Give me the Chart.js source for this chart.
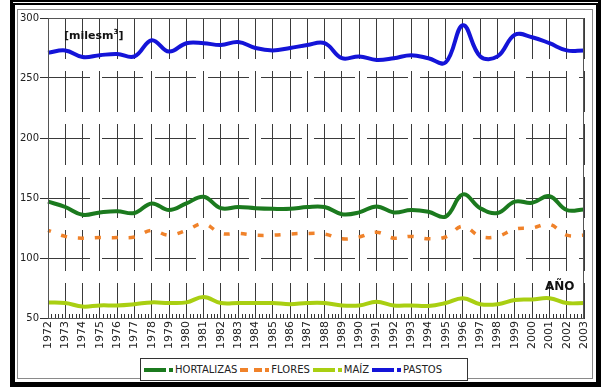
<!DOCTYPE html>
<html>
<head>
<meta charset="utf-8">
<script src="https://cdn.jsdelivr.net/npm/chart.js@4/dist/chart.umd.min.js"></script>
<style>
  html, body { margin: 0; padding: 0; background: #fff; }
  #wrap { position: relative; width: 601px; height: 387px; overflow: hidden; font-family: "DejaVu Sans", sans-serif; }
  #c { position: absolute; left: 0; top: 0; }
  .frame-outer { position: absolute; left: 10px; top: 0; width: 581px; height: 377px; border: 5px solid #000; border-top-style: double; pointer-events: none; }
  .frame-inner { position: absolute; left: 17px; top: 9px; width: 574px; height: 368px; border: 1px solid #8a8a8a; pointer-events: none; }
  .unit { position: absolute; left: 64px; top: 28px; font-size: 11px; font-weight: bold; color: #111; }
  .unit sup { font-size: 7px; }
  .axis-name { position: absolute; left: 545px; top: 279px; font-size: 12px; font-weight: bold; color: #111; }
  #legend { position: absolute; left: 140px; top: 358px; width: 326px; height: 21px; border: 1px solid #333; background: #fff;
            display: flex; align-items: center; font-size: 10px; color: #222; white-space: nowrap; }
  .item { display: flex; align-items: center; margin-left: 3px; }
  .swatch { width: 22px; height: 0; margin-right: 3px; }
  .mark { width: 4px; height: 4px; margin-right: 2px; }
</style>
</head>
<body>
<div id="wrap">
  <canvas id="c" width="601" height="387"></canvas>
  <div class="frame-outer"></div>
  <div class="frame-inner"></div>
  <div class="unit">[milesm<sup>3</sup>]</div>
  <div class="axis-name">AÑO</div>
  <div id="legend"></div>
</div>
<script>
// Years on the horizontal axis
const years = ['1972','1973','1974','1975','1976','1977','1978','1979','1980','1981',
  '1982','1983','1984','1985','1986','1987','1988','1989','1990','1991','1992','1993',
  '1994','1995','1996','1997','1998','1999','2000','2001','2002','2003'];

// Series values (miles de m³)
const hortalizas = [147,142.5,136,138,139,137.5,145.5,140,145.5,151,141.5,142.5,141.5,141,141,142.5,
  142.5,136.5,138,143,138,140,138.5,134.5,153,141.5,137.5,147,146,151.5,140,140.5];
const flores = [123,118,116.5,117,117,117.5,123,119,123,128.5,120.5,120.5,119,119,120,120.5,
  120,116,117.5,121.5,116.5,118,116,117.5,126.5,118,118,124,125,128,119,119];
const maiz = [63,62.5,59.5,60.5,60.5,61.5,63,62.5,63,67.5,62.5,62.5,62.5,62.5,61.5,62.5,
  62.5,60.5,60.5,63.5,60.5,60.5,60,62.5,66.5,61.5,61.5,65,65.5,66.5,62.5,62.5];
const pastos = [271,273,267.5,269,270,268,281.5,272,279,279,277.5,280,275,273,275,277.5,
  279,266.5,268,265,266.5,269,266.5,263,294,268,268,286,284,279,273,273];

// Y axis tick values
const yTicks = [50,100,150,200,250,300];

const series = [
  { label: 'HORTALIZAS', data: hortalizas, color: '#1b7a1e', dash: [],     width: 4 },
  { label: 'FLORES',     data: flores,     color: '#f0822a', dash: [6,11], width: 3.5 },
  { label: 'MAÍZ',       data: maiz,       color: '#a9cf12', dash: [],     width: 4 },
  { label: 'PASTOS',     data: pastos,     color: '#1414d8', dash: [],     width: 4 }
];

// Plot frame and small minor ticks along the bottom axis
const framePlugin = {
  id: 'frame',
  afterDatasetsDraw(chart) {
    const { ctx, chartArea: a, scales: { x } } = chart;
    ctx.save();
    ctx.strokeStyle = '#555';
    ctx.lineWidth = 1;
    ctx.strokeRect(a.left + 0.5, a.top + 0.5, a.right - a.left - 1, a.bottom - a.top);
    ctx.strokeStyle = '#333';
    ctx.beginPath();
    for (let i = 0; i < years.length - 1; i++) {
      const p0 = x.getPixelForValue(i), p1 = x.getPixelForValue(i + 1);
      for (let k = 1; k < 5; k++) {
        const px = Math.round(p0 + (p1 - p0) * k / 5) + 0.5;
        ctx.moveTo(px, a.bottom - 4);
        ctx.lineTo(px, a.bottom);
      }
    }
    ctx.stroke();
    ctx.restore();
  }
};

new Chart(document.getElementById('c'), {
  type: 'line',
  data: {
    labels: years,
    datasets: series.map(s => ({
      label: s.label,
      data: s.data,
      borderColor: s.color,
      backgroundColor: s.color,
      borderWidth: s.width,
      borderDash: s.dash,
      borderDashOffset: s.dash.length ? 3 : 0,
      pointRadius: 0,
      tension: 0.4,
      fill: false
    }))
  },
  options: {
    responsive: false,
    devicePixelRatio: 1,
    animation: false,
    layout: { padding: { left: 0, right: 17, top: 18, bottom: 29 } },
    plugins: { legend: { display: false }, tooltip: { enabled: false } },
    scales: {
      x: {
        type: 'category',
        offset: false,
        afterFit(s) { s.height = 40; },
        grid: { display: true, color: '#3a3a3a', lineWidth: 1, drawTicks: false },
        border: { display: true, color: '#333', width: 1, dash: [41,12] },
        ticks: { autoSkip: false, minRotation: 90, maxRotation: 90, padding: 3,
                 color: '#222', font: { family: 'DejaVu Sans', size: 11 } }
      },
      y: {
        min: 50, max: 300,
        afterFit(s) { s.width = 48; },
        afterBuildTicks(s) { s.ticks = yTicks.map(v => ({ value: v })); },
        grid: { display: true, color: '#3a3a3a', lineWidth: 1, drawTicks: true, tickLength: 8, tickColor: '#333' },
        border: { display: true, color: '#333', width: 1, dash: [41,12] },
        ticks: { padding: 1, color: '#222', font: { family: 'DejaVu Sans', size: 10 } }
      }
    }
  },
  plugins: [framePlugin]
});

// Legend built from the series list
const legend = document.getElementById('legend');
series.forEach(s => {
  const item = document.createElement('div');
  item.className = 'item';
  const sw = document.createElement('span');
  sw.className = 'swatch';
  sw.style.borderTop = '4px ' + (s.dash.length ? 'dashed ' : 'solid ') + s.color;
  const mk = document.createElement('span');
  mk.className = 'mark';
  mk.style.background = s.color;
  const tx = document.createElement('span');
  tx.textContent = s.label;
  item.append(sw, mk, tx);
  legend.appendChild(item);
});
</script>
</body>
</html>
